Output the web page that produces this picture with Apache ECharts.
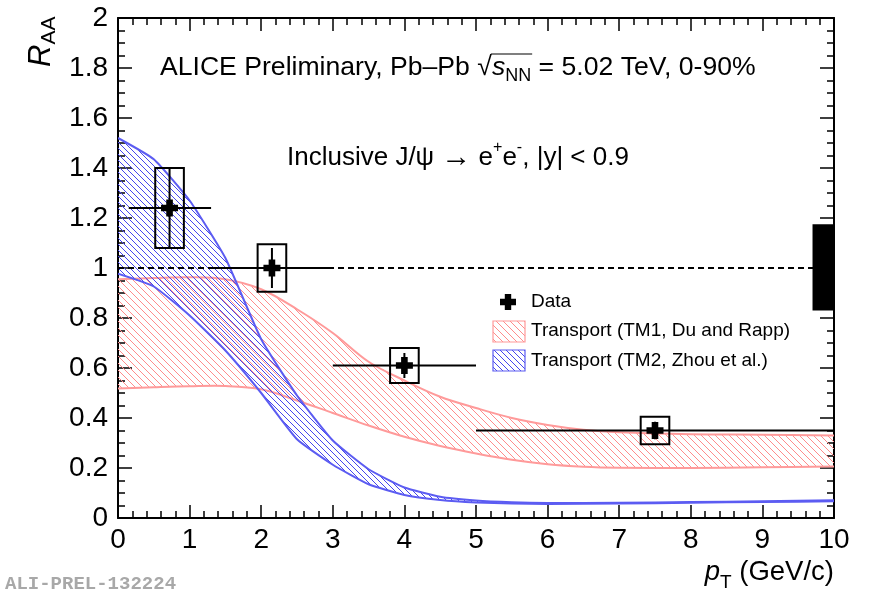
<!DOCTYPE html>
<html><head><meta charset="utf-8">
<script src="https://cdn.jsdelivr.net/npm/echarts@6/dist/echarts.min.js"></script>
<style>html,body{margin:0;padding:0;background:#fff}#c{width:876px;height:596px}</style>
</head><body><div id="c"></div>
<script>
// ---------------- data ----------------
const ptCenter = [0.72, 2.15, 4.0, 7.5];
const ptLow    = [0.15, 1.3, 3.0, 5.0];
const ptHigh   = [1.3, 3.0, 5.0, 10.0];
const raa      = [1.24, 1.0, 0.61, 0.35];
const statErr  = [0.16, 0.08, 0.05, 0.035];
const systErr  = [0.16, 0.095, 0.07, 0.055];
const globalUnc = [0.83, 1.175];      // normalisation box (y low, y high)
const globalX   = [9.7, 10];          // normalisation box x range
const refLineY  = 1;

const tm1X  = [0, 0.5, 1, 1.5, 2, 2.5, 3, 3.5, 4, 4.5, 5, 5.5, 6, 6.5, 7, 8, 9, 10];
const tm1Up = [0.955, 0.96, 0.963, 0.955, 0.915, 0.835, 0.74, 0.625, 0.55, 0.485, 0.44, 0.40, 0.372, 0.353, 0.343, 0.335, 0.333, 0.33];
const tm1Lo = [0.518, 0.523, 0.527, 0.528, 0.515, 0.47, 0.42, 0.37, 0.325, 0.288, 0.258, 0.233, 0.215, 0.205, 0.201, 0.2, 0.203, 0.206];

const tm2X  = [0, 0.5, 1, 1.5, 2, 2.5, 3, 3.5, 4, 4.5, 5, 5.5, 6, 7, 8, 9, 10];
const tm2Up = [1.52, 1.435, 1.27, 1.04, 0.715, 0.49, 0.31, 0.195, 0.122, 0.085, 0.07, 0.063, 0.06, 0.061, 0.064, 0.067, 0.071];
const tm2Lo = [0.977, 0.926, 0.81, 0.67, 0.5, 0.315, 0.213, 0.135, 0.092, 0.072, 0.062, 0.058, 0.056, 0.058, 0.061, 0.064, 0.067];

const xTickLabels = ['0','1','2','3','4','5','6','7','8','9','10'];
const yTickLabels = ['0','0.2','0.4','0.6','0.8','1','1.2','1.4','1.6','1.8','2'];

// ---------------- styles ----------------
const FONT = 'Liberation Sans';
const RED = '#ff9a9a', RED_HATCH = '#ff8c8c';
const BLUE = '#5c5cf2', BLUE_HATCH = '#4646ee';
const BOX_HW = 0.2;

function hatch(color, s) {
  const c = document.createElement('canvas');
  c.width = s; c.height = s;
  const g = c.getContext('2d');
  g.strokeStyle = color; g.lineWidth = 1;
  g.beginPath();
  for (let k = -1; k <= 1; k++) { g.moveTo(k * s, 0); g.lineTo(k * s + s, s); }
  g.stroke();
  return { image: c, repeat: 'repeat' };
}
const redPat = hatch(RED_HATCH, 7);
const bluePat = hatch(BLUE_HATCH, 6);

const mctx = document.createElement('canvas').getContext('2d');
function measure(t, size, it) {
  mctx.font = (it ? 'italic ' : '') + size + 'px "' + FONT + '"';
  return mctx.measureText(t).width;
}
function richLine(x, y, segs, align) {
  const widths = segs.map(g => measure(g.t, g.s, g.it));
  const total = widths.reduce((a, b) => a + b, 0);
  let cx = align === 'right' ? x - total : (align === 'center' ? x - total / 2 : x);
  const els = [], pos = [];
  segs.forEach((g, i) => {
    pos.push(cx);
    els.push({ type: 'text', x: cx, y: y + (g.dy || 0),
      style: { text: g.t, fontSize: g.s, fontFamily: FONT, fontStyle: g.it ? 'italic' : 'normal',
               fill: g.c || '#000', align: 'left', verticalAlign: 'middle' } });
    cx += widths[i];
  });
  pos.push(cx);
  return { els, pos };
}

// ---------------- graphics (texts, legend) ----------------
const graphics = [];
const T1 = 26.6, Y1 = 68;
const l1 = richLine(160, Y1, [
  { t: 'ALICE Preliminary, Pb\u2013Pb ', s: T1 },
  { t: '\u221A', s: T1 },
  { t: 's', s: T1, it: true },
  { t: 'NN', s: 18, dy: 8 },
  { t: ' = 5.02 TeV, 0-90%', s: T1 }
]);
graphics.push(...l1.els);
graphics.push({ type: 'line', shape: { x1: l1.pos[2] - 1, y1: Y1 - 14, x2: l1.pos[4] + 1, y2: Y1 - 14 }, style: { stroke: '#000', lineWidth: 1.2 } });

const L2 = 26;
const l2 = richLine(287, 158, [
  { t: 'Inclusive J/\u03C8 ', s: L2 },
  { t: '\u2192', s: 30 },
  { t: ' e', s: L2 },
  { t: '+', s: 16, dy: -10 },
  { t: 'e', s: L2 },
  { t: '-', s: 16, dy: -10 },
  { t: ', |y| < 0.9', s: L2 }
]);
graphics.push(...l2.els);

// y axis title (rotated)
const ra = richLine(0, 0, [
  { t: 'R', s: 31, it: true },
  { t: 'AA', s: 21, dy: 8 }
]);
graphics.push({ type: 'group', x: 41, y: 67, rotation: Math.PI / 2, children: ra.els });

// x axis title
const pt = richLine(834, 572, [
  { t: 'p', s: 27.5, it: true },
  { t: 'T', s: 19, dy: 11 },
  { t: ' (GeV/c)', s: 27.5 }
], 'right');
graphics.push(...pt.els);

// ALI-PREL tag
graphics.push({ type: 'text', x: 5, y: 584, style: { text: 'ALI-PREL-132224', fontSize: 19, fontWeight: 'bold',
  fontFamily: 'Liberation Mono', fill: '#a8a8a8', align: 'left', verticalAlign: 'middle' } });

// legend
function crossPts(cx, cy, a, t) {
  return [[-t,-a],[t,-a],[t,-t],[a,-t],[a,t],[t,t],[t,a],[-t,a],[-t,t],[-a,t],[-a,-t],[-t,-t]].map(p => [cx + p[0], cy + p[1]]);
}
graphics.push({ type: 'polygon', shape: { points: crossPts(508, 302, 8, 3.2) }, style: { fill: '#000' } });
graphics.push({ type: 'rect', shape: { x: 493, y: 321, width: 32, height: 21 }, style: { fill: redPat, stroke: RED, lineWidth: 1.2 } });
graphics.push({ type: 'rect', shape: { x: 493, y: 350, width: 32, height: 21 }, style: { fill: bluePat, stroke: BLUE, lineWidth: 1.2 } });
const LEGF = 19;
[['Data', 302], ['Transport (TM1, Du and Rapp)', 331], ['Transport (TM2, Zhou et al.)', 361]].forEach(([t, y]) => {
  graphics.push({ type: 'text', x: 531, y: y, style: { text: t, fontSize: LEGF, fontFamily: FONT, fill: '#000', align: 'left', verticalAlign: 'middle' } });
});

// ---------------- series ----------------
function bandSeries(xs, up, lo, lineColor, pat, z) {
  return {
    type: 'custom', coordinateSystem: 'cartesian2d', silent: true, clip: true, z: z,
    data: xs.map((x, i) => [x, lo[i], up[i]]),
    encode: { x: 0, y: [1, 2] },
    renderItem(params, api) {
      if (params.dataIndex !== 0) return;
      const upP = xs.map((x, i) => api.coord([x, up[i]]));
      const loP = xs.map((x, i) => api.coord([x, lo[i]]));
      const sm = lineColor === RED ? 0.35 : 0.15;
      return { type: 'group', children: [
        { type: 'polygon', shape: { points: upP.concat(loP.slice().reverse()), smooth: 0 }, style: { fill: pat, stroke: null } },
        { type: 'polyline', shape: { points: upP, smooth: sm }, style: { stroke: lineColor, lineWidth: 2, fill: null } },
        { type: 'polyline', shape: { points: loP, smooth: sm }, style: { stroke: lineColor, lineWidth: 2, fill: null } }
      ] };
    }
  };
}

const dataSeries = {
  type: 'custom', coordinateSystem: 'cartesian2d', z: 10, clip: false,
  data: ptCenter.map((x, i) => [x, raa[i], ptLow[i], ptHigh[i], statErr[i], systErr[i]]),
  encode: { x: 0, y: 1 },
  renderItem(params, api) {
    const x = api.value(0), y = api.value(1);
    const c = api.coord([x, y]);
    const l = api.coord([api.value(2), y]), r = api.coord([api.value(3), y]);
    const sT = api.coord([x, y + api.value(4)]), sB = api.coord([x, y - api.value(4)]);
    const b1 = api.coord([x - BOX_HW, y + api.value(5)]), b2 = api.coord([x + BOX_HW, y - api.value(5)]);
    const st = { stroke: '#000', lineWidth: 2 };
    return { type: 'group', children: [
      { type: 'line', shape: { x1: l[0], y1: c[1], x2: r[0], y2: c[1] }, style: st },
      { type: 'line', shape: { x1: c[0], y1: sT[1], x2: c[0], y2: sB[1] }, style: st },
      { type: 'rect', shape: { x: b1[0], y: b1[1], width: b2[0] - b1[0], height: b2[1] - b1[1] }, style: { stroke: '#000', lineWidth: 2, fill: 'none' } },
      { type: 'polygon', shape: { points: crossPts(c[0], c[1], 8.5, 3.3) }, style: { fill: '#000' } }
    ] };
  }
};

const globalSeries = {
  type: 'custom', coordinateSystem: 'cartesian2d', z: 9, clip: true,
  data: [[globalX[0], globalUnc[0], globalX[1], globalUnc[1]]],
  encode: { x: [0, 2], y: [1, 3] },
  renderItem(params, api) {
    const p1 = api.coord([api.value(0), api.value(3)]), p2 = api.coord([api.value(2), api.value(1)]);
    return { type: 'rect', shape: { x: p1[0], y: p1[1], width: p2[0] - p1[0], height: p2[1] - p1[1] }, style: { fill: '#000' } };
  }
};

const refLine = {
  type: 'line', data: [[0, refLineY], [10, refLineY]], symbol: 'none', silent: true, z: 8,
  lineStyle: { color: '#000', width: 1.8, type: [6, 4] }
};

// ---------------- axes ----------------
const tickStyle = { color: '#000', width: 1.5 };
const TICKF = 28;
function xAx(pos, labels) {
  return { type: 'value', min: 0, max: 10, interval: 1, position: pos,
    axisLine: { show: true, onZero: false, lineStyle: { color: '#000', width: 2 } },
    axisTick: { show: true, inside: true, length: 13, lineStyle: tickStyle },
    minorTick: { show: true, splitNumber: 5, length: 7, lineStyle: tickStyle },
    splitLine: { show: false }, minorSplitLine: { show: false },
    axisLabel: { show: labels, fontSize: TICKF, fontFamily: FONT, color: '#000', margin: 8,
      formatter: v => xTickLabels[Math.round(v)] } };
}
function yAx(pos, labels) {
  return { type: 'value', min: 0, max: 2, interval: 0.2, position: pos,
    axisLine: { show: true, onZero: false, lineStyle: { color: '#000', width: 2 } },
    axisTick: { show: true, inside: true, length: 14, lineStyle: tickStyle },
    minorTick: { show: true, splitNumber: 4, length: 7, lineStyle: tickStyle },
    splitLine: { show: false }, minorSplitLine: { show: false },
    axisLabel: { show: labels, fontSize: TICKF, fontFamily: FONT, color: '#000', margin: 10,
      formatter: v => yTickLabels[Math.round(v * 5)] } };
}

const chart = echarts.init(document.getElementById('c'), null, { renderer: 'canvas' });
chart.setOption({
  animation: false,
  backgroundColor: '#fff',
  grid: { left: 118, top: 18, width: 716, height: 500, containLabel: false },
  xAxis: [xAx('bottom', true), xAx('top', false)],
  yAxis: [yAx('left', true), yAx('right', false)],
  graphic: { elements: graphics },
  series: [
    bandSeries(tm1X, tm1Up, tm1Lo, RED, redPat, 2),
    bandSeries(tm2X, tm2Up, tm2Lo, BLUE, bluePat, 3),
    refLine,
    globalSeries,
    dataSeries
  ]
});
</script></body></html>
